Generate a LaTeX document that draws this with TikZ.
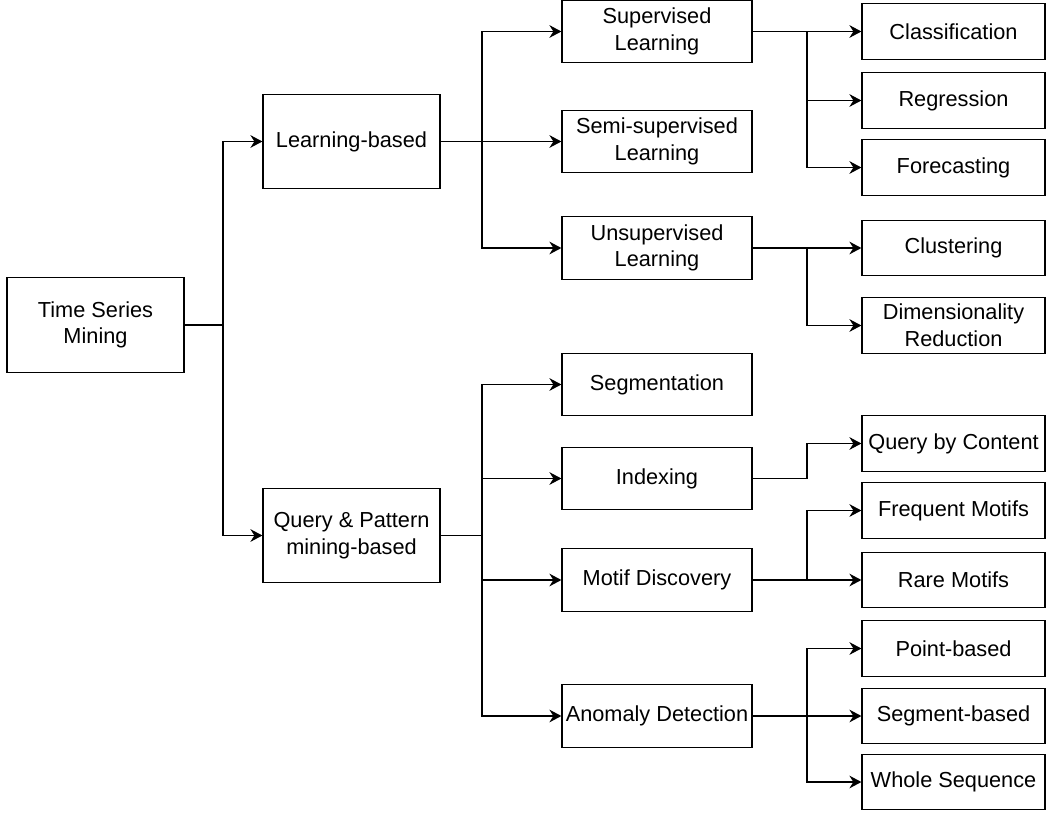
\documentclass[tikz,border=0pt]{standalone}
\usepackage{fontspec}
\setmainfont{Liberation Sans}
\usetikzlibrary{arrows.meta}
\begin{document}
\begin{tikzpicture}[x=0.75pt,y=-0.75pt,
  box/.style={draw, line width=0.9pt, align=center, inner sep=0pt,
    font=\fontsize{16.3pt}{20pt}\selectfont},
  lbox/.style={box, minimum width=132.75pt, minimum height=71pt},
  mbox/.style={box, minimum width=142.5pt, minimum height=47pt},
  rbox/.style={box, minimum width=137.25pt, minimum height=41.5pt},
  arr/.style={line width=0.9pt, -{Stealth[length=9pt,width=9.5pt,inset=3pt]}},
  ln/.style={line width=0.9pt}]
\useasboundingbox (0,0) rectangle (1046,813);
% left
\node[lbox] (tsm) at (95.5,325) {Time Series\\Mining};
\node[lbox] (lb) at (351.5,141.5) {Learning-based};
\node[lbox] (qp) at (351.5,535.5) {Query \& Pattern\\mining-based};
% middle
\node[mbox] (sl) at (657,31.5) {Supervised\\Learning};
\node[mbox] (ssl) at (657,141.5) {Semi-supervised\\Learning};
\node[mbox] (ul) at (657,248) {Unsupervised\\Learning};
\node[mbox] (seg) at (657,384.5) {Segmentation};
\node[mbox] (idx) at (657,478.5) {Indexing};
\node[mbox] (md) at (657,580) {Motif Discovery};
\node[mbox] (ad) at (657,716) {Anomaly Detection};
% right
\node[rbox] (cls) at (953.5,31.5) {Classification};
\node[rbox] (reg) at (953.5,100.5) {Regression};
\node[rbox] (fore) at (953.5,167.5) {Forecasting};
\node[rbox] (clu) at (953.5,248) {Clustering};
\node[rbox] (dim) at (953.5,325.5) {Dimensionality\\Reduction};
\node[rbox] (qbc) at (953.5,443.5) {Query by Content};
\node[rbox] (freq) at (953.5,510.5) {Frequent Motifs};
\node[rbox] (rare) at (953.5,580) {Rare Motifs};
\node[rbox] (pt) at (953.5,648.5) {Point-based};
\node[rbox] (sgb) at (953.5,716) {Segment-based};
\node[rbox] (whole) at (953.5,782) {Whole Sequence};
% junctions
\coordinate (j1) at (223,325);
\coordinate (j2) at (482,141.5);
\coordinate (j3) at (482,535.5);
\coordinate (j4) at (807,31.5);
\coordinate (j5) at (807,248);
\coordinate (j6) at (807,478.5);
\coordinate (j7) at (807,580);
\coordinate (j8) at (807,716);
% connectors
\draw[ln] (tsm.east) -- (j1);
\draw[arr] (j1) |- (lb.west);
\draw[arr] (j1) |- (qp.west);
\draw[ln] (lb.east) -- (j2);
\draw[arr] (j2) |- (sl.west);
\draw[arr] (j2) |- (ssl.west);
\draw[arr] (j2) |- (ul.west);
\draw[ln] (qp.east) -- (j3);
\draw[arr] (j3) |- (seg.west);
\draw[arr] (j3) |- (idx.west);
\draw[arr] (j3) |- (md.west);
\draw[arr] (j3) |- (ad.west);
\draw[ln] (sl.east) -- (j4);
\draw[arr] (j4) |- (cls.west);
\draw[arr] (j4) |- (reg.west);
\draw[arr] (j4) |- (fore.west);
\draw[ln] (ul.east) -- (j5);
\draw[arr] (j5) |- (clu.west);
\draw[arr] (j5) |- (dim.west);
\draw[ln] (idx.east) -- (j6);
\draw[arr] (j6) |- (qbc.west);
\draw[ln] (md.east) -- (j7);
\draw[arr] (j7) |- (freq.west);
\draw[arr] (j7) |- (rare.west);
\draw[ln] (ad.east) -- (j8);
\draw[arr] (j8) |- (pt.west);
\draw[arr] (j8) |- (sgb.west);
\draw[arr] (j8) |- (whole.west);
\end{tikzpicture}
\end{document}
